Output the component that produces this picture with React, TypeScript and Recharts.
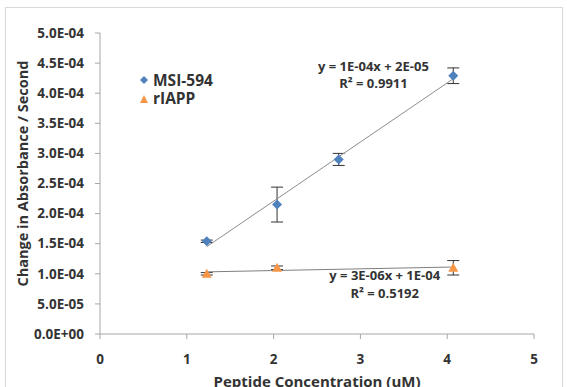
import React from 'react';
import {
  ScatterChart,
  Scatter,
  XAxis,
  YAxis,
  ErrorBar,
  Legend,
  Label,
  ReferenceDot,
} from 'recharts';

const msiConc = [1.23, 2.04, 2.75, 4.07];
const msiRate = [1.54e-4, 2.15e-4, 2.9e-4, 4.29e-4];
const msiErr = [0.02e-4, 0.29e-4, 0.1e-4, 0.13e-4];

const iappConc = [1.23, 2.04, 4.07];
const iappRate = [1.0e-4, 1.1e-4, 1.1e-4];
const iappErr = [0.02e-4, 0.03e-4, 0.12e-4];

const xTicks = [0, 1, 2, 3, 4, 5];
const yTicks = [0, 5e-5, 1e-4, 1.5e-4, 2e-4, 2.5e-4, 3e-4, 3.5e-4, 4e-4, 4.5e-4, 5e-4];

const msiEquation = ['y = 1E-04x + 2E-05', 'R² = 0.9911'];
const iappEquation = ['y = 3E-06x + 1E-04', 'R² = 0.5192'];

const BLUE = '#4f81bd';
const ORANGE = '#f79646';
const TEXT = '#333333';
const FONT = '"Open Sans", sans-serif';

const toPoints = (xs: number[], ys: number[], errs: number[]) =>
  xs.map((x, i) => ({ x, y: ys[i], err: errs[i] }));

const msiData = toPoints(msiConc, msiRate, msiErr);
const iappData = toPoints(iappConc, iappRate, iappErr);

// least squares trendline, drawn between the first and last x
function trend(xs: number[], ys: number[]) {
  const n = xs.length;
  const mx = xs.reduce((a, b) => a + b, 0) / n;
  const my = ys.reduce((a, b) => a + b, 0) / n;
  let sxy = 0;
  let sxx = 0;
  xs.forEach((x, i) => {
    sxy += (x - mx) * (ys[i] - my);
    sxx += (x - mx) * (x - mx);
  });
  const slope = sxy / sxx;
  const icpt = my - slope * mx;
  const x0 = Math.min(...xs);
  const x1 = Math.max(...xs);
  return [
    { x: x0, y: icpt + slope * x0 },
    { x: x1, y: icpt + slope * x1 },
  ];
}

const fmtSci = (v: number) => {
  if (v === 0) return '0.0E+00';
  const exp = Math.floor(Math.log10(Math.abs(v)) + 1e-9);
  const mant = v / Math.pow(10, exp);
  const sign = exp < 0 ? '-' : '+';
  return `${mant.toFixed(1)}E${sign}${String(Math.abs(exp)).padStart(2, '0')}`;
};

const Diamond = (props: any) => {
  const { cx, cy } = props;
  if (cx == null || cy == null) return null;
  const r = 5;
  return (
    <polygon
      points={`${cx},${cy - r} ${cx + r},${cy} ${cx},${cy + r} ${cx - r},${cy}`}
      fill={BLUE}
    />
  );
};

const Triangle = (props: any) => {
  const { cx, cy } = props;
  if (cx == null || cy == null) return null;
  return (
    <polygon
      points={`${cx},${cy - 5} ${cx + 5},${cy + 4} ${cx - 5},${cy + 4}`}
      fill={ORANGE}
    />
  );
};

const NoDot = () => null;

const LegendBox = () => (
  <div style={{ fontFamily: FONT, fontWeight: 700, fontSize: 15.5, color: TEXT, lineHeight: '18px' }}>
    <div style={{ display: 'flex', alignItems: 'center', height: 18 }}>
      <svg width={14} height={12}>
        <polygon points="4,1 8,5 4,9 0,5" fill={BLUE} transform="translate(1,1)" />
      </svg>
      <span>MSI-594</span>
    </div>
    <div style={{ display: 'flex', alignItems: 'center', height: 18 }}>
      <svg width={14} height={12}>
        <polygon points="5,3 9,11 1,11" fill={ORANGE} />
      </svg>
      <span>rIAPP</span>
    </div>
  </div>
);

const equationLabel = (lines: string[], gap: number) => (props: any) => {
  const { viewBox } = props;
  const cx = viewBox.x + (viewBox.width || 0) / 2;
  const cy = viewBox.y + (viewBox.height || 0) / 2;
  return (
    <text
      x={cx}
      y={cy}
      textAnchor="middle"
      fontFamily={FONT}
      fontWeight={700}
      fontSize={13}
      fill={TEXT}
    >
      <tspan x={cx} dy="-4">{lines[0]}</tspan>
      <tspan x={cx} dy={gap}>{lines[1]}</tspan>
    </text>
  );
};

const YTitle = (props: any) => {
  const { viewBox } = props;
  const x = viewBox.x - 8;
  const y = viewBox.y + viewBox.height / 2 - 10;
  return (
    <text
      x={x}
      y={y}
      transform={`rotate(-90, ${x}, ${y})`}
      textAnchor="middle"
      dominantBaseline="central"
      fontFamily={FONT}
      fontWeight={700}
      fontSize={14.5}
      fill={TEXT}
    >
      Change in Absorbance / Second
    </text>
  );
};

const tickStyle = { fontFamily: FONT, fontWeight: 700, fontSize: 13.5, fill: TEXT };
const axisColor = '#a6a6a6';

export default function App() {
  return (
    <div
      style={{
        position: 'absolute',
        left: 0,
        top: 0,
        width: 567,
        height: 387,
        overflow: 'hidden',
        background: '#fff',
      }}
    >
      <div
        style={{
          position: 'absolute',
          left: 5,
          top: 7,
          width: 558,
          height: 420,
          border: '1px solid #d9d9d9',
          boxSizing: 'border-box',
        }}
      />
      <ScatterChart
        width={567}
        height={387}
        margin={{ top: 33, right: 33, left: 30, bottom: 0 }}
        style={{ position: 'absolute', left: 0, top: 0 }}
      >
        <XAxis
          type="number"
          dataKey="x"
          domain={[0, 5]}
          ticks={xTicks}
          height={53}
          tickSize={5}
          tickMargin={15}
          stroke={axisColor}
          tick={tickStyle}
          allowDataOverflow
        >
          <Label
            value="Peptide Concentration (uM)"
            position="insideBottom"
            offset={0}
            style={{ fontFamily: FONT, fontWeight: 700, fontSize: 15, fill: TEXT }}
          />
        </XAxis>
        <YAxis
          type="number"
          dataKey="y"
          domain={[0, 5e-4]}
          ticks={yTicks}
          width={70}
          tickSize={5}
          tickMargin={11}
          stroke={axisColor}
          tick={tickStyle}
          tickFormatter={fmtSci}
          allowDataOverflow
        >
          <Label content={YTitle} />
        </YAxis>
        <Legend
          layout="vertical"
          align="center"
          verticalAlign="middle"
          content={LegendBox}
          wrapperStyle={{ position: 'absolute', left: 139, top: 71, width: 110 }}
        />
        <Scatter
          data={trend(msiConc, msiRate)}
          shape={NoDot}
          line={{ stroke: '#8c8c8c', strokeWidth: 1 }}
          legendType="none"
          isAnimationActive={false}
        />
        <Scatter
          data={trend(iappConc, iappRate)}
          shape={NoDot}
          line={{ stroke: '#7f7f7f', strokeWidth: 1 }}
          legendType="none"
          isAnimationActive={false}
        />
        <Scatter name="MSI-594" data={msiData} shape={Diamond} isAnimationActive={false}>
          <ErrorBar dataKey="err" direction="y" width={6} stroke="#333" strokeWidth={1} />
        </Scatter>
        <Scatter name="rIAPP" data={iappData} shape={Triangle} isAnimationActive={false}>
          <ErrorBar dataKey="err" direction="y" width={6} stroke="#333" strokeWidth={1} />
        </Scatter>
        <ReferenceDot x={3.15} y={4.3e-4} r={0} label={equationLabel(msiEquation, 17)} ifOverflow="visible" />
        <ReferenceDot x={3.28} y={0.823e-4} r={0} label={equationLabel(iappEquation, 18)} ifOverflow="visible" />
      </ScatterChart>
    </div>
  );
}
